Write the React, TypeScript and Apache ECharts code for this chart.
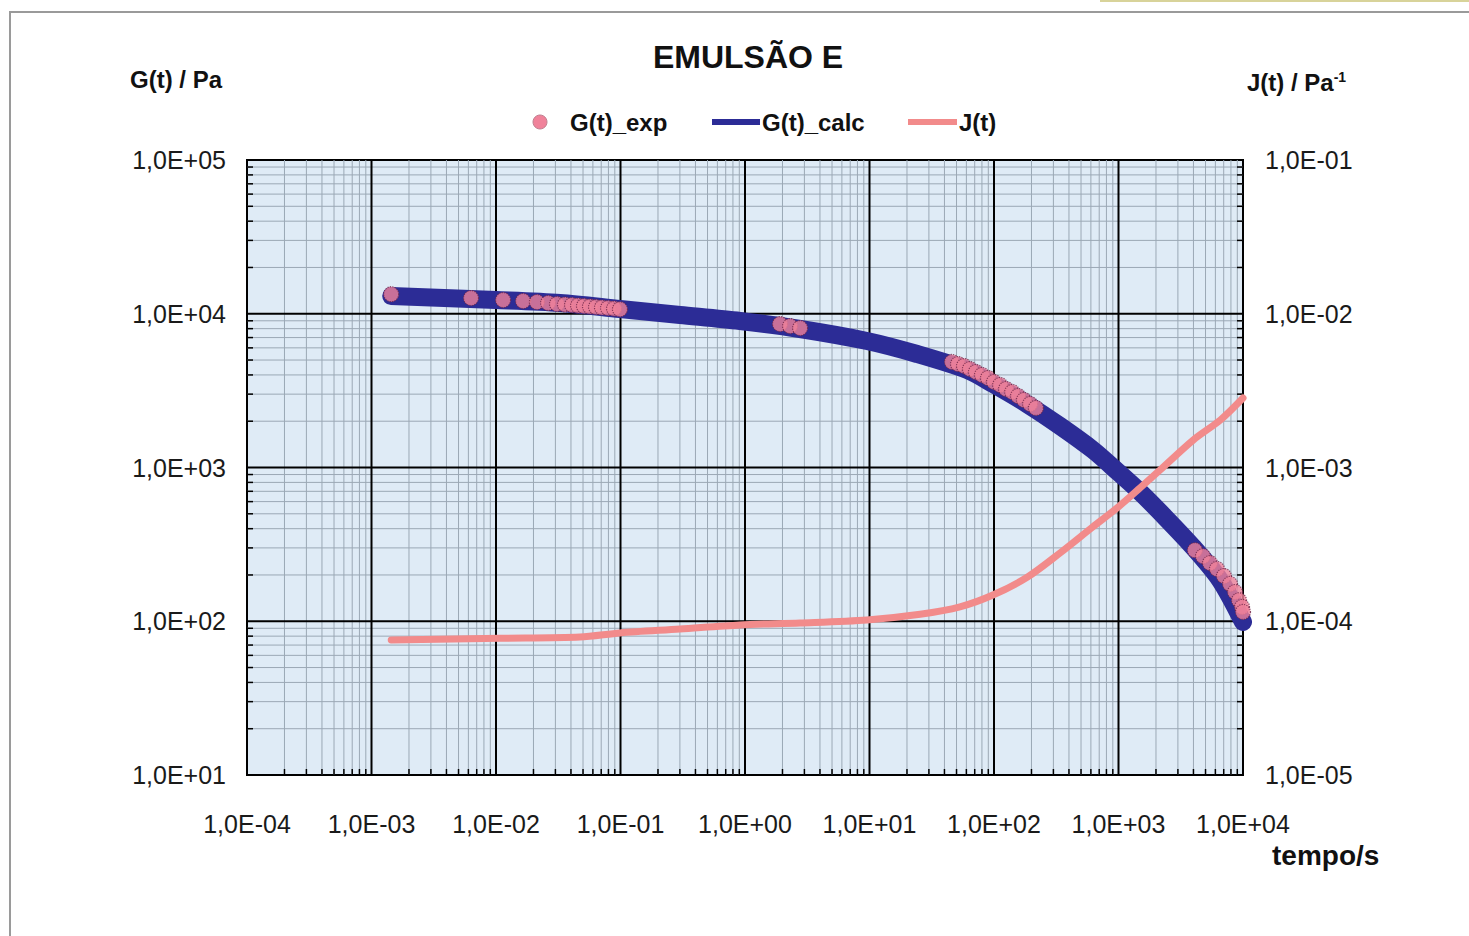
import React, { useEffect, useRef } from "react";
import * as echarts from "echarts";

// ---- Axis ranges ----
const X_MIN = 1e-4;
const X_MAX = 1e4;
const G_MIN = 1e1;
const G_MAX = 1e5;
const J_MIN = 1e-5;
const J_MAX = 1e-1;

// ---- Legend / titles ----
const TITLE = "EMULSÃO E";
const SERIES_NAMES = ["G(t)_exp", "G(t)_calc", "J(t)"];

// ---- G(t)_exp (visible experimental points) ----
const tExp = [
  0.00144, 0.0063, 0.0114, 0.0165, 0.0213, 0.0262, 0.0309, 0.0358, 0.0408, 0.0456,
  0.0509, 0.0569, 0.0636, 0.071, 0.0794, 0.0887, 0.099,
  1.91, 2.3, 2.77,
  46.0, 51.4, 57.4, 64.1, 71.6, 80.1, 89.5, 100, 112, 125, 140, 156, 174, 195, 217,
  4110, 4770, 5430, 6180, 7030, 7870, 8630, 9290, 9820, 10000,
];
const gExp = [
  13400, 12650, 12280, 12100, 11920, 11750, 11570, 11480, 11400, 11300,
  11230, 11150, 11060, 10980, 10900, 10800, 10700,
  8570, 8310, 8070,
  4860, 4710, 4570, 4370, 4180, 4000, 3820, 3600, 3440, 3240, 3100, 2920, 2750, 2590, 2440,
  290, 265, 239, 219, 197, 175, 155, 137, 124, 115,
];

// ---- G(t)_calc ----
const tCalc = [
  0.00144, 0.01, 0.0327, 0.099, 0.301, 0.912, 2.77, 9.55, 24.1, 60.7, 98.2, 184, 339,
  624, 991, 1489, 2155, 3966, 6530, 10000,
];
const gCalc = [
  13040, 12290, 11750, 10740, 9815, 8970, 7960, 6650, 5473, 4307, 3492, 2588, 1862,
  1300, 935, 693, 513, 304, 185.5, 98.9,
];

// ---- J(t) ----
const tJ = [
  0.00144, 0.0108, 0.0473, 0.099, 0.3, 0.91, 2.77, 9.55, 25.5, 53.3, 98, 186, 339,
  620, 995, 1490, 2160, 3990, 6600, 10000,
];
const jVal = [
  7.55e-5, 7.75e-5, 7.9e-5, 8.4e-5, 8.9e-5, 9.46e-5, 9.75e-5, 1.02e-4, 1.11e-4, 1.24e-4,
  1.48e-4, 1.94e-4, 2.78e-4, 4.1e-4, 5.53e-4, 7.36e-4, 9.64e-4, 1.51e-3, 2.04e-3, 2.83e-3,
];

const BLUE = "#2c2c96";
const PINK_LINE = "#f28b8b";
const PINK_DOT = "#f0829a";
const FONT = "'Liberation Sans', Arial, sans-serif";

function sci(v: number): string {
  const e = Math.round(Math.log10(v));
  const a = Math.abs(e);
  return "1,0E" + (e < 0 ? "-" : "+") + (a < 10 ? "0" + a : String(a));
}

export default function App() {
  const ref = useRef<HTMLDivElement>(null);

  useEffect(() => {
    const chart = echarts.init(ref.current!, null, { renderer: "svg" });

    const labelStyle = { color: "#1a1a1a", fontSize: 25, fontFamily: FONT };

    const gridRender = (params: any, api: any) => {
      if (params.dataIndex !== 0) return null;
      const tl = api.coord([X_MIN, G_MAX]);
      const br = api.coord([X_MAX, G_MIN]);
      const left = tl[0], top = tl[1], right = br[0], bottom = br[1];
      const minor: any[] = [];
      const ticks: any[] = [];
      const major: any[] = [];
      const minorStyle = { stroke: "#9ba8b5", lineWidth: 1 };
      const tickStyle = { stroke: "#000", lineWidth: 1.5 };
      const majorStyle = { stroke: "#000", lineWidth: 2 };
      const dx0 = Math.round(Math.log10(X_MIN));
      const dx1 = Math.round(Math.log10(X_MAX));
      for (let d = dx0; d < dx1; d++) {
        for (let k = 2; k <= 9; k++) {
          const x = api.coord([k * Math.pow(10, d), G_MIN])[0];
          minor.push({ type: "line", shape: { x1: x, y1: top, x2: x, y2: bottom }, style: minorStyle });
          ticks.push({ type: "line", shape: { x1: x, y1: bottom, x2: x, y2: bottom - 6 }, style: tickStyle });
        }
        if (d > dx0) {
          const x = api.coord([Math.pow(10, d), G_MIN])[0];
          major.push({ type: "line", shape: { x1: x, y1: top, x2: x, y2: bottom }, style: majorStyle });
        }
      }
      const dy0 = Math.round(Math.log10(G_MIN));
      const dy1 = Math.round(Math.log10(G_MAX));
      for (let d = dy0; d < dy1; d++) {
        for (let k = 2; k <= 9; k++) {
          const y = api.coord([X_MIN, k * Math.pow(10, d)])[1];
          minor.push({ type: "line", shape: { x1: left, y1: y, x2: right, y2: y }, style: minorStyle });
          ticks.push({ type: "line", shape: { x1: left, y1: y, x2: left + 6, y2: y }, style: tickStyle });
          ticks.push({ type: "line", shape: { x1: right, y1: y, x2: right - 6, y2: y }, style: tickStyle });
        }
        if (d > dy0) {
          const y = api.coord([X_MIN, Math.pow(10, d)])[1];
          major.push({ type: "line", shape: { x1: left, y1: y, x2: right, y2: y }, style: majorStyle });
        }
      }
      return { type: "group", children: [...minor, ...ticks, ...major] };
    };

    const option: any = {
      animation: false,
      backgroundColor: "#ffffff",
      grid: {
        left: 247,
        top: 160,
        width: 996,
        height: 615,
        show: true,
        backgroundColor: "#dfebf6",
        borderColor: "#000",
        borderWidth: 2,
        containLabel: false,
      },
      xAxis: {
        type: "log",
        logBase: 10,
        min: X_MIN,
        max: X_MAX,
        axisLine: { show: false },
        axisTick: { show: false },
        splitLine: { show: false },
        axisLabel: {
          ...labelStyle,
          margin: 36,
          interval: 0,
          showMinLabel: true,
          showMaxLabel: true,
          formatter: (v: number) => sci(v),
        },
      },
      yAxis: [
        {
          type: "log",
          logBase: 10,
          min: G_MIN,
          max: G_MAX,
          position: "left",
          axisLine: { show: false },
          axisTick: { show: false },
          splitLine: { show: false },
          axisLabel: {
            ...labelStyle,
            margin: 21,
            showMinLabel: true,
            showMaxLabel: true,
            formatter: (v: number) => sci(v),
          },
        },
        {
          type: "log",
          logBase: 10,
          min: J_MIN,
          max: J_MAX,
          position: "right",
          axisLine: { show: false },
          axisTick: { show: false },
          splitLine: { show: false },
          axisLabel: {
            ...labelStyle,
            margin: 22,
            showMinLabel: true,
            showMaxLabel: true,
            formatter: (v: number) => sci(v),
          },
        },
      ],
      series: [
        {
          type: "custom",
          name: "grid",
          xAxisIndex: 0,
          yAxisIndex: 0,
          z: 1,
          silent: true,
          renderItem: gridRender,
          data: [[1, 100]],
        },
        {
          type: "line",
          name: SERIES_NAMES[1],
          xAxisIndex: 0,
          yAxisIndex: 0,
          z: 3,
          data: tCalc.map((t, i) => [t, gCalc[i]]),
          showSymbol: false,
          smooth: 0.3,
          lineStyle: { color: BLUE, width: 18, cap: "round", join: "round" },
          itemStyle: { color: BLUE },
        },
        {
          type: "scatter",
          name: SERIES_NAMES[0],
          xAxisIndex: 0,
          yAxisIndex: 0,
          z: 4,
          symbol: "circle",
          symbolSize: 15,
          data: tExp.map((t, i) => [t, gExp[i]]),
          itemStyle: {
            color: PINK_DOT,
            borderColor: "#6e2648",
            borderWidth: 1.2,
            borderType: "dotted",
          },
        },
        {
          type: "line",
          name: SERIES_NAMES[2],
          xAxisIndex: 0,
          yAxisIndex: 1,
          z: 5,
          data: tJ.map((t, i) => [t, jVal[i]]),
          showSymbol: false,
          smooth: 0.3,
          lineStyle: { color: PINK_LINE, width: 7, cap: "round", join: "round" },
          itemStyle: { color: PINK_LINE },
        },
      ],
      graphic: [
        { type: "rect", silent: true, shape: { x: 10, y: 12, width: 1490, height: 960 }, style: { fill: "none", stroke: "#9a9a9a", lineWidth: 2 } },
        { type: "line", silent: true, shape: { x1: 1100, y1: 1, x2: 1469, y2: 1 }, style: { stroke: "#d8d39a", lineWidth: 2 } },
        {
          type: "text",
          x: 748,
          y: 57,
          style: { text: TITLE, fontSize: 32, fontWeight: "bold", fontFamily: FONT, fill: "#111", align: "center", verticalAlign: "middle" },
        },
        {
          type: "text",
          x: 130,
          y: 79,
          style: { text: "G(t) / Pa", fontSize: 24, fontWeight: "bold", fontFamily: FONT, fill: "#111", align: "left", verticalAlign: "middle" },
        },
        {
          type: "text",
          x: 1247,
          y: 82,
          style: {
            text: "{a|J(t) / Pa}{b|-1}",
            align: "left",
            verticalAlign: "middle",
            rich: {
              a: { fontSize: 24, fontWeight: "bold", fontFamily: FONT, fill: "#111", color: "#111" },
              b: { fontSize: 14, fontWeight: "bold", fontFamily: FONT, fill: "#111", color: "#111", verticalAlign: "top" },
            },
          },
        },
        {
          type: "text",
          x: 1272,
          y: 855,
          style: { text: "tempo/s", fontSize: 28, fontWeight: "bold", fontFamily: FONT, fill: "#111", align: "left", verticalAlign: "middle" },
        },
        // legend
        { type: "circle", shape: { cx: 540, cy: 122, r: 7 }, style: { fill: PINK_DOT, stroke: "#c08090", lineWidth: 1 } },
        {
          type: "text",
          x: 570,
          y: 122,
          style: { text: SERIES_NAMES[0], fontSize: 24, fontWeight: "bold", fontFamily: FONT, fill: "#111", align: "left", verticalAlign: "middle" },
        },
        { type: "line", shape: { x1: 712, y1: 122, x2: 760, y2: 122 }, style: { stroke: BLUE, lineWidth: 6 } },
        {
          type: "text",
          x: 762,
          y: 122,
          style: { text: SERIES_NAMES[1], fontSize: 24, fontWeight: "bold", fontFamily: FONT, fill: "#111", align: "left", verticalAlign: "middle" },
        },
        { type: "line", shape: { x1: 908, y1: 122, x2: 957, y2: 122 }, style: { stroke: PINK_LINE, lineWidth: 6 } },
        {
          type: "text",
          x: 959,
          y: 122,
          style: { text: SERIES_NAMES[2], fontSize: 24, fontWeight: "bold", fontFamily: FONT, fill: "#111", align: "left", verticalAlign: "middle" },
        },
      ],
    };

    chart.setOption(option);
    return () => chart.dispose();
  }, []);

  return (
    <div
      ref={ref}
      style={{ position: "absolute", left: 0, top: 0, width: 1469, height: 936, background: "#fff" }}
    />
  );
}
